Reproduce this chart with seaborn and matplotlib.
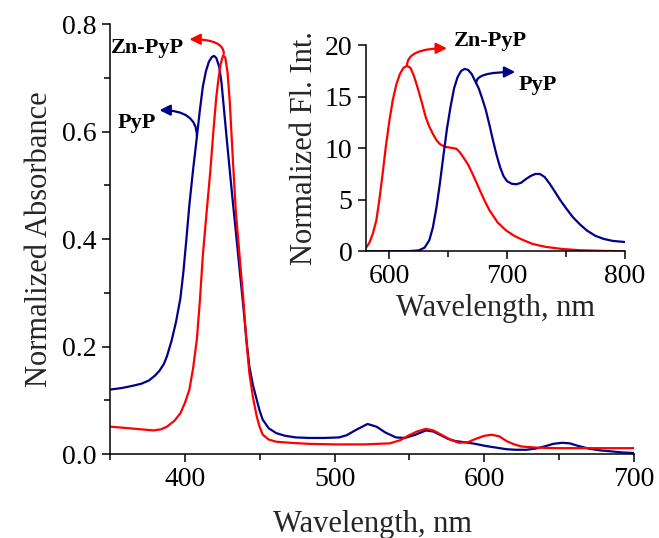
import matplotlib
matplotlib.use("Agg")
import matplotlib.pyplot as plt
import seaborn as sns
import pandas as pd
from matplotlib.ticker import MultipleLocator

# absorption spectra (main panel)
wl_abs_pyp = [350, 358, 365, 371, 376, 380, 383, 386, 388, 391, 394, 397, 399, 401, 403,
              405.5, 408, 410, 412, 414, 416, 418, 419.5, 421, 423, 424.5, 426, 428, 430,
              432, 434, 436.5, 439, 441, 443, 445.5, 448, 450, 452, 456, 461, 467, 474,
              483, 493, 503, 508, 515, 522, 528, 534, 541, 547, 554, 561, 566, 571, 576,
              581, 587, 594, 601, 608, 615, 621, 628, 634, 640, 646, 652, 657, 663, 670,
              677, 685, 692, 700]
abs_pyp = [0.120, 0.123, 0.127, 0.131, 0.137, 0.146, 0.155, 0.168, 0.182, 0.210, 0.245,
           0.290, 0.339, 0.400, 0.464, 0.530, 0.590, 0.640, 0.684, 0.712, 0.730, 0.739,
           0.741, 0.737, 0.720, 0.690, 0.645, 0.585, 0.527, 0.470, 0.415, 0.345, 0.276,
           0.215, 0.164, 0.128, 0.101, 0.080, 0.064, 0.048, 0.039, 0.034, 0.031, 0.030,
           0.030, 0.031, 0.035, 0.046, 0.056, 0.051, 0.040, 0.031, 0.030, 0.036, 0.044,
           0.042, 0.035, 0.028, 0.024, 0.022, 0.019, 0.015, 0.012, 0.009, 0.008, 0.008,
           0.010, 0.014, 0.019, 0.021, 0.020, 0.015, 0.010, 0.007, 0.005, 0.003, 0.002]

wl_abs_zn = [350, 363, 379, 384, 388, 393, 397, 400, 403, 405.5, 408, 410, 412, 414.5, 417,
             419, 421, 422.5, 424, 425.5, 427, 428.5, 430, 432, 434, 436.5, 439, 441, 443,
             445.5, 448, 450, 452, 456, 461, 470, 483, 500, 520, 537, 544, 549, 555, 561,
             566, 572, 578, 583, 589, 594, 600, 605, 610, 615, 620, 625, 635, 648, 670, 700]
abs_zn = [0.051, 0.048, 0.044, 0.046, 0.051, 0.062, 0.076, 0.095, 0.120, 0.160, 0.214,
          0.285, 0.370, 0.450, 0.527, 0.600, 0.665, 0.700, 0.727, 0.742, 0.738, 0.710,
          0.655, 0.550, 0.452, 0.370, 0.289, 0.215, 0.152, 0.105, 0.070, 0.050, 0.036,
          0.027, 0.023, 0.021, 0.019, 0.018, 0.018, 0.020, 0.026, 0.034, 0.042, 0.047,
          0.044, 0.035, 0.026, 0.021, 0.022, 0.028, 0.034, 0.036, 0.033, 0.024, 0.018,
          0.014, 0.012, 0.011, 0.011, 0.011]

# fluorescence spectra (inset)
wl_fl_zn = [580, 583, 586, 589, 591.5, 594, 597, 600, 603, 606, 609, 612, 615, 618, 621,
            624, 627, 631, 634, 637, 640, 643, 647, 652, 657, 660, 663, 667, 672, 677,
            681, 685, 692, 699, 706, 714, 722, 733, 747, 762, 780, 800]
fl_zn = [0.3, 0.8, 1.7, 3.0, 4.95, 7.2, 10.1, 12.6, 14.7, 16.2, 17.2, 17.8, 18.0, 17.8,
         17.0, 15.9, 14.7, 13.0, 12.1, 11.4, 10.8, 10.4, 10.15, 10.05, 9.95, 9.6, 9.1,
         8.4, 7.2, 5.9, 4.9, 4.0, 2.8, 2.04, 1.5, 1.07, 0.7, 0.42, 0.22, 0.1, 0.04, 0.0]

wl_fl_pyp = [580, 615, 625, 630, 634, 637, 640, 643, 646, 649, 652, 655, 658, 661, 664,
             667, 670, 673, 676, 679, 682, 685, 688, 691, 694, 697, 700, 704, 708, 712,
             716, 720, 724, 728, 732, 736, 740, 745, 750, 756, 762, 768, 775, 782, 790, 800]
fl_pyp = [0.0, 0.0, 0.08, 0.35, 1.07, 2.3, 4.2, 6.6, 9.3, 11.9, 14.0, 15.8, 16.9, 17.5,
          17.7, 17.6, 17.2, 16.5, 15.8, 14.8, 13.7, 12.3, 10.8, 9.4, 8.2, 7.3, 6.8, 6.55,
          6.5, 6.65, 7.0, 7.3, 7.5, 7.5, 7.2, 6.6, 5.9, 5.0, 4.2, 3.3, 2.6, 2.0, 1.5, 1.2,
          1.0, 0.9]

BLUE = "#00008B"
RED = "#FF0000"

sns.set_theme(style="ticks")
plt.rcParams["font.family"] = ["Liberation Serif", "DejaVu Serif"]

fig = plt.figure(figsize=(6.59, 5.38), dpi=100)
ax = fig.add_axes([0.167, 0.156, 0.795, 0.799])
ins = fig.add_axes([0.555, 0.533, 0.393, 0.383])

df_abs = pd.concat([
    pd.DataFrame({"wl": wl_abs_pyp, "val": abs_pyp, "sample": "PyP"}),
    pd.DataFrame({"wl": wl_abs_zn, "val": abs_zn, "sample": "Zn-PyP"}),
])
df_fl = pd.concat([
    pd.DataFrame({"wl": wl_fl_zn, "val": fl_zn, "sample": "Zn-PyP"}),
    pd.DataFrame({"wl": wl_fl_pyp, "val": fl_pyp, "sample": "PyP"}),
])
palette = {"PyP": BLUE, "Zn-PyP": RED}

sns.lineplot(data=df_abs, x="wl", y="val", hue="sample", palette=palette,
             linewidth=1.6, legend=False, ax=ax, sort=False)
sns.lineplot(data=df_fl, x="wl", y="val", hue="sample", palette=palette,
             linewidth=1.6, legend=False, ax=ins, sort=False)

for a in (ax, ins):
    sns.despine(ax=a)
    a.spines["left"].set_linewidth(1.1)
    a.spines["bottom"].set_linewidth(1.1)
    a.spines["left"].set_color("black")
    a.spines["bottom"].set_color("black")
    a.tick_params(which="both", direction="out", colors="black", labelsize=20, width=1.1)
    a.tick_params(which="major", length=6)
    a.tick_params(which="minor", length=4)
    a.set_facecolor("none")

ax.set_xlim(350, 700)
ax.set_ylim(0, 0.8)
ax.xaxis.set_major_locator(MultipleLocator(100))
ax.xaxis.set_minor_locator(MultipleLocator(50))
ax.yaxis.set_major_locator(MultipleLocator(0.2))
ax.yaxis.set_minor_locator(MultipleLocator(0.1))
ax.yaxis.set_major_formatter(plt.FormatStrFormatter("%.1f"))
ax.set_xlabel("Wavelength, nm", fontsize=22, labelpad=13)
ax.set_ylabel("Normalized Absorbance", fontsize=22, labelpad=6)

ins.set_xlim(580, 800)
ins.set_ylim(0, 20)
ins.xaxis.set_major_locator(MultipleLocator(100))
ins.xaxis.set_minor_locator(MultipleLocator(50))
ins.yaxis.set_major_locator(MultipleLocator(5))
ins.set_xlabel("Wavelength, nm", fontsize=22, labelpad=3)
ins.set_ylabel("Normalized Fl. Int.", fontsize=22, labelpad=4)

# curved arrows pointing from the peaks to the labels
arrow_kw = dict(arrowstyle="-|>", lw=1.6, mutation_scale=16,
                connectionstyle="angle3,angleA=90,angleB=0", shrinkA=0, shrinkB=0)
ax.annotate("", xy=(403, 0.772), xytext=(426, 0.745), annotation_clip=False,
            arrowprops=dict(color=RED, **arrow_kw))
ax.annotate("", xy=(383, 0.640), xytext=(408, 0.592), annotation_clip=False,
            arrowprops=dict(color=BLUE, **arrow_kw))
ins.annotate("", xy=(649, 19.7), xytext=(615, 18.0), annotation_clip=False,
             arrowprops=dict(color=RED, **arrow_kw))
ins.annotate("", xy=(707, 17.4), xytext=(674, 16.4), annotation_clip=False,
             arrowprops=dict(color=BLUE, **arrow_kw))

lbl = dict(fontsize=16, fontweight="bold", ha="center", va="center", color="black")
ax.text(375, 0.755, "Zn-PyP", **lbl)
ax.text(368, 0.617, "PyP", **lbl)
ins.text(686, 20.4, "Zn-PyP", clip_on=False, **lbl)
ins.text(726, 16.1, "PyP", **lbl)

fig.savefig("out.png", dpi=100)
